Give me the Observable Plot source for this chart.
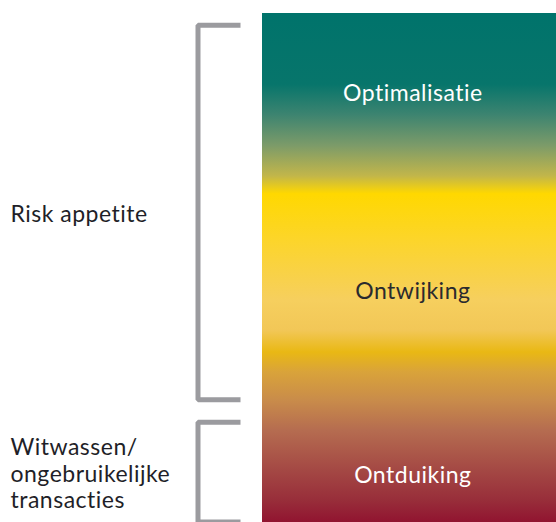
<!DOCTYPE html>
<html><head><meta charset="utf-8">
<script src="https://cdn.jsdelivr.net/npm/d3@7"></script>
<script src="https://cdn.jsdelivr.net/npm/@observablehq/plot@0.6"></script>
<style>html,body{margin:0;padding:0;background:#fff;overflow:hidden}</style>
</head><body><div id="chart"></div>
<script>
// Zones inside the gradient bar (levels on a 0–100 scale, top = 0)
const zoneNames = ["Optimalisatie", "Ontwijking", "Ontduiking"];
const zoneStart = [0, 31.6, 81.4];
const zoneEnd = [31.6, 77.6, 100];

// Brackets on the left
const bracketLabels = ["Risk appetite", "Witwassen/\nongebruikelijke\ntransacties"];
const bracketStart = [2.3, 80.3];
const bracketEnd = [75.9, 99.9];

// Colour gradient of the bar (offset along the bar, colour)
const gradientOffsets = [0, 0.14, 0.2, 0.26, 0.32, 0.355, 0.446, 0.564, 0.623, 0.666, 0.705, 0.76, 0.82, 0.898, 0.957, 1];
const gradientColors = ["#00736b", "#07756b", "#3d8470", "#7c9b69", "#c2b64a", "#ffd800", "#fcd52a", "#f6cf5e", "#f2c757", "#e9b814", "#d9a33a", "#c98c4a", "#b56c50", "#a44844", "#982e3a", "#911430"];

// ---- build tables
const zones = zoneNames.map((name, i) => ({name, start: zoneStart[i], end: zoneEnd[i]}));
const brackets = bracketLabels.map((label, i) => ({label, start: bracketStart[i], end: bracketEnd[i]}));

// layout (x in 0–100 width units)
const W = 556, H = 522;
const xLabel = 10 / W * 100, xSpine = 197.5 / W * 100, xTick = 240 / W * 100, xBar = 262 / W * 100;
const xBarMid = (xBar + 100) / 2 + 0.6;

const bracketPts = brackets.flatMap(b => [
  {label: b.label, x: xTick, y: b.start},
  {label: b.label, x: xSpine, y: b.start},
  {label: b.label, x: xSpine, y: b.end},
  {label: b.label, x: xTick, y: b.end}
]);

const zoneTextColor = {"Optimalisatie": "#ffffff", "Ontwijking": "#2a2a2e", "Ontduiking": "#ffffff"};

const defs = () => {
  const d = d3.create("svg:defs");
  const g = d.append("linearGradient").attr("id", "riskGrad")
    .attr("x1", 0).attr("y1", 0).attr("x2", 0).attr("y2", 1);
  gradientOffsets.forEach((o, i) => g.append("stop").attr("offset", o).attr("stop-color", gradientColors[i]));
  return d.node();
};

const bar = [{start: zoneStart[0], end: zoneEnd[zoneEnd.length - 1]}];

const chart = Plot.plot({
  width: W, height: H,
  marginTop: 0, marginBottom: 0, marginLeft: 0, marginRight: 0,
  x: {domain: [0, 100], range: [0, W], axis: null},
  y: {domain: [0, 100], range: [13, H], axis: null},
  style: {fontFamily: "Lato, sans-serif", background: "#fff", letterSpacing: "0.5px"},
  marks: [
    defs,
    Plot.rect(bar, {x1: () => xBar, x2: () => 100, y1: "start", y2: "end", fill: "url(#riskGrad)"}),
    Plot.line(bracketPts, {x: "x", y: "y", z: "label", stroke: "#9b9b9f", strokeWidth: 5,
      strokeLinejoin: "miter", strokeLinecap: "butt"}),
    Plot.text(zones, {x: () => xBarMid, y: d => (d.start + d.end) / 2, text: "name",
      fill: d => zoneTextColor[d.name], fontSize: 23, fontFamily: "Lato, sans-serif"}),
    Plot.text(brackets, {x: () => xLabel, y: d => (d.start + d.end) / 2, text: "label", dy: 1,
      textAnchor: "start", lineHeight: 1.16, fill: "#1f1f28", fontSize: 23, fontFamily: "Lato, sans-serif"})
  ]
});
document.getElementById("chart").appendChild(chart);
</script>
</body></html>
